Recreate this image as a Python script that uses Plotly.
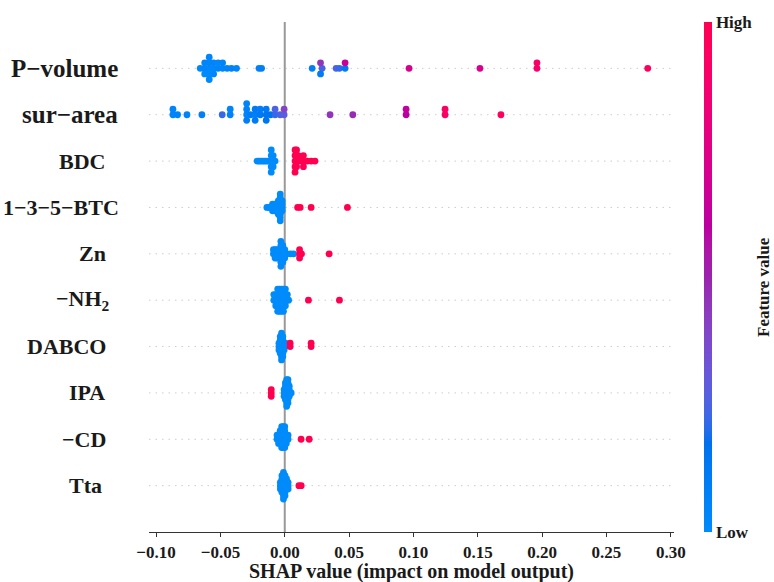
import numpy as np
import plotly.graph_objects as go

# ---- feature names (top to bottom) ----
features = ["P−volume", "sur−area", "BDC", "1−3−5−BTC", "Zn",
            "−NH<sub>2</sub>", "DABCO", "IPA", "−CD", "Tta"]

# ---- SHAP values and normalised feature values per feature ----
pvol_shap = [-0.0657, -0.0622, -0.0622, -0.0622, -0.0587, -0.0587, -0.0587, -0.0587, -0.0587,
             -0.0553, -0.0553, -0.0553, -0.0518, -0.0518, -0.0483, -0.0483, -0.0448, -0.0414,
             -0.0375, -0.0200, -0.0180, 0.0213, 0.0290, 0.0278, 0.0278, 0.0399, 0.0425,
             0.0469, 0.0469, 0.0966, 0.1517, 0.1960, 0.1960, 0.2821]
pvol_feat = [0.02, 0.03, 0.05, 0.00, 0.02, 0.04, 0.00, 0.03, 0.01,
             0.02, 0.05, 0.03, 0.04, 0.02, 0.03, 0.05, 0.04, 0.06,
             0.05, 0.06, 0.08, 0.08, 0.25, 0.45, 0.10, 0.25, 0.22,
             0.12, 0.65, 0.70, 0.72, 0.88, 0.90, 0.95]

surf_shap = [-0.0869, -0.0869, -0.0833, -0.0760, -0.0644, -0.0486, -0.0424, -0.0424,
             -0.0296, -0.0296, -0.0296, -0.0296, -0.0265, -0.0230, -0.0230, -0.0230,
             -0.0191, -0.0191, -0.0144, -0.0144, -0.0144, -0.0110, -0.0075, -0.0075,
             -0.0036, -0.0005, -0.0005, 0.0352, 0.0529, 0.0943, 0.0943, 0.1246, 0.1246, 0.1680]
surf_feat = [0.03, 0.05, 0.04, 0.06, 0.08, 0.22, 0.06, 0.04,
             0.03, 0.06, 0.08, 0.05, 0.10, 0.08, 0.12, 0.10,
             0.12, 0.10, 0.14, 0.12, 0.15, 0.16, 0.22, 0.25,
             0.25, 0.28, 0.40, 0.45, 0.48, 0.60, 0.62, 0.90, 0.92, 0.95]

bdc_shap = [-0.0215, -0.0200, -0.0185, -0.0170, -0.0155, -0.0140, -0.0125,
            -0.0105, -0.0105, -0.0105, -0.0105, -0.0105, -0.0090, -0.0090, -0.0090, -0.0075,
            0.0080, 0.0080, 0.0080, 0.0080, 0.0080, 0.0092, 0.0092, 0.0092, 0.0092,
            0.0105, 0.0105, 0.0130, 0.0145, 0.0145, 0.0145, 0.0175, 0.0205, 0.0235]
bdc_feat = [0, 0, 0, 0, 0, 0, 0, 0, 0, 0, 0, 0, 0, 0, 0, 0,
            1, 1, 1, 1, 1, 1, 1, 1, 1, 1, 1, 1, 1, 1, 1, 1, 1, 1]

btc_shap = [-0.0139, -0.0125, -0.0110, -0.0095, -0.0095, -0.0095, -0.0080, -0.0080, -0.0080,
            -0.0065, -0.0065, -0.0065, -0.0050, -0.0050, -0.0050, -0.0050, -0.0050,
            -0.0035, -0.0035, -0.0035, -0.0035, -0.0035, -0.0035, -0.0035, -0.0035, -0.0035,
            -0.0020, -0.0020, -0.0020, -0.0020, 0.0100, 0.0120, 0.0205, 0.0487]
btc_feat = [0, 0, 0, 0, 0, 0, 0, 0, 0, 0, 0, 0, 0, 0, 0, 0, 0,
            0, 0, 0, 0, 0, 0, 0, 0, 0, 0, 0, 0, 0, 1, 1, 1, 1]

zn_shap = [-0.0088, -0.0088, -0.0075, -0.0075, -0.0075, -0.0060, -0.0060, -0.0060,
           -0.0045, -0.0045, -0.0045, -0.0030, -0.0030, -0.0030, -0.0030, -0.0030, -0.0030, -0.0030,
           -0.0015, -0.0015, -0.0015, -0.0015, -0.0015, 0.0000, 0.0000, 0.0000,
           0.0020, 0.0045, 0.0068, 0.0115, 0.0115, 0.0115, 0.0130, 0.0345]
zn_feat = [0, 0, 0, 0, 0, 0, 0, 0, 0, 0, 0, 0, 0, 0, 0, 0, 0, 0,
           0, 0, 0, 0, 0, 0, 0, 0, 0, 0, 0, 1, 1, 1, 1, 1]

nh2_shap = [-0.0085, -0.0085, -0.0070, -0.0070, -0.0070,
            -0.0055, -0.0055, -0.0055, -0.0055, -0.0055, -0.0040, -0.0040, -0.0040, -0.0040, -0.0040,
            -0.0025, -0.0025, -0.0025, -0.0025, -0.0025, -0.0010, -0.0010, -0.0010, -0.0010, -0.0010,
            0.0005, 0.0005, 0.0005, 0.0005, 0.0020, 0.0020, 0.0030, 0.0184, 0.0425]
nh2_feat = [0, 0, 0, 0, 0, 0, 0, 0, 0, 0, 0, 0, 0, 0, 0, 0, 0,
            0, 0, 0, 0, 0, 0, 0, 0, 0, 0, 0, 0, 0, 0, 0, 1, 1]

dabco_shap = [-0.0045, -0.0045, -0.0045, -0.0035, -0.0035, -0.0035, -0.0035, -0.0035, -0.0035,
              -0.0025, -0.0025, -0.0025, -0.0025, -0.0025, -0.0025, -0.0025, -0.0025, -0.0025,
              -0.0015, -0.0015, -0.0015, -0.0015, -0.0015, -0.0015, -0.0015,
              -0.0005, -0.0005, -0.0005, 0.0005, 0.0005, 0.0042, 0.0042, 0.0205, 0.0205]
dabco_feat = [0, 0, 0, 0, 0, 0, 0, 0, 0, 0, 0, 0, 0, 0, 0, 0, 0, 0,
              0, 0, 0, 0, 0, 0, 0, 0, 0, 0, 0, 0, 1, 1, 1, 1]

ipa_shap = [-0.0105, -0.0105, -0.0105, -0.0005, -0.0005, -0.0005,
            0.0005, 0.0005, 0.0005, 0.0005, 0.0005, 0.0005,
            0.0015, 0.0015, 0.0015, 0.0015, 0.0015, 0.0015, 0.0015, 0.0015, 0.0015,
            0.0025, 0.0025, 0.0025, 0.0025, 0.0025, 0.0025, 0.0025, 0.0025,
            0.0035, 0.0035, 0.0035, 0.0035, 0.0050]
ipa_feat = [1, 1, 1, 0, 0, 0, 0, 0, 0, 0, 0, 0, 0, 0, 0, 0, 0,
            0, 0, 0, 0, 0, 0, 0, 0, 0, 0, 0, 0, 0, 0, 0, 0, 0]

cd_shap = [-0.0060, -0.0060, -0.0048, -0.0048, -0.0048, -0.0036, -0.0036, -0.0036, -0.0036,
           -0.0024, -0.0024, -0.0024, -0.0024, -0.0024, -0.0024,
           -0.0012, -0.0012, -0.0012, -0.0012, -0.0012, -0.0012,
           0.0000, 0.0000, 0.0000, 0.0000, 0.0000, 0.0000,
           0.0012, 0.0012, 0.0012, 0.0026, 0.0026, 0.0127, 0.0190]
cd_feat = [0, 0, 0, 0, 0, 0, 0, 0, 0, 0, 0, 0, 0, 0, 0, 0, 0,
           0, 0, 0, 0, 0, 0, 0, 0, 0, 0, 0, 0, 0, 0, 0, 1, 1]

tta_shap = [-0.0034, -0.0034, -0.0034, -0.0022, -0.0022, -0.0022, -0.0022, -0.0022, -0.0022,
            -0.0010, -0.0010, -0.0010, -0.0010, -0.0010, -0.0010, -0.0010, -0.0010, -0.0010,
            0.0002, 0.0002, 0.0002, 0.0002, 0.0002, 0.0002, 0.0002,
            0.0014, 0.0014, 0.0014, 0.0014, 0.0026, 0.0026, 0.0026, 0.0110, 0.0128]
tta_feat = [0, 0, 0, 0, 0, 0, 0, 0, 0, 0, 0, 0, 0, 0, 0, 0, 0,
            0, 0, 0, 0, 0, 0, 0, 0, 0, 0, 0, 0, 0, 0, 0, 1, 1]

shap_rows = [pvol_shap, surf_shap, bdc_shap, btc_shap, zn_shap,
             nh2_shap, dabco_shap, ipa_shap, cd_shap, tta_shap]
feat_rows = [pvol_feat, surf_feat, bdc_feat, btc_feat, zn_feat,
             nh2_feat, dabco_feat, ipa_feat, cd_feat, tta_feat]

x_ticks = [-0.10, -0.05, 0.00, 0.05, 0.10, 0.15, 0.20, 0.25, 0.30]
x_tick_text = ["−0.10", "−0.05", "0.00", "0.05", "0.10", "0.15", "0.20", "0.25", "0.30"]

# ---- styling / layout ----
SERIF = "Liberation Serif, Times New Roman, serif"
INK = "#1a1a1a"
W, H = 774, 582
ML, MR, MT, MB = 149, 100, 22, 50
PW, PH = W - ML - MR, H - MT - MB


def px_x(px):
    """Horizontal pixel -> paper coordinate."""
    return (px - ML) / PW


def px_y(py):
    """Vertical pixel (from top) -> paper coordinate."""
    return (MT + PH - py) / PH


# row label right edges (px) and font sizes
label_right = [120, 120, 107, 121, 108, 112, 108, 107, 108, 104]
label_size = [25, 25, 22, 22, 22, 22, 22, 22, 22, 22]


def lch_to_rgb(l, c, h):
    """CIE LCh(ab) -> sRGB (D65), 0..255 ints."""
    a, b = c * np.cos(h), c * np.sin(h)
    fy = (l + 16.0) / 116.0
    fx = fy + a / 500.0
    fz = fy - b / 200.0

    def finv(t):
        return t ** 3 if t ** 3 > 0.008856 else (t - 16.0 / 116.0) / 7.787

    X, Y, Z = 0.95047 * finv(fx), finv(fy), 1.08883 * finv(fz)
    lin = [3.24048134 * X - 1.53715152 * Y - 0.49853633 * Z,
           -0.96925495 * X + 1.87599 * Y + 0.04155593 * Z,
           0.05564664 * X - 0.20404134 * Y + 1.05731107 * Z]
    out = []
    for v in lin:
        v = 12.92 * v if v <= 0.0031308 else 1.055 * v ** (1 / 2.4) - 0.055
        out.append(int(round(255 * min(max(v, 0.0), 1.0))))
    return out


def red_blue_scale(n=41):
    """Blue -> red colour map interpolated in LCh space."""
    blue_lch = (54.0, 70.0, 4.6588)
    red_lch = (54.0, 90.0, 0.35470565 + 2 * np.pi)
    l_mid = 40.0
    scale = []
    for t in np.linspace(0, 1, n):
        if t <= 0.5:
            l = blue_lch[0] + (l_mid - blue_lch[0]) * (t / 0.5)
        else:
            l = l_mid + (red_lch[0] - l_mid) * ((t - 0.5) / 0.5)
        c = blue_lch[1] + (red_lch[1] - blue_lch[1]) * t
        h = blue_lch[2] + (red_lch[2] - blue_lch[2]) * t
        r, g, b = lch_to_rgb(l, c, h)
        scale.append([float(t), f"rgb({r},{g},{b})"])
    return scale


def swarm_offsets(vals, nbins=100, row_height=0.4):
    """Vertical beeswarm offsets: stack points that share a quantised bin."""
    vals = np.asarray(vals, dtype=float)
    span = vals.max() - vals.min()
    quant = np.round(nbins * (vals - vals.min()) / (span + 1e-8))
    order = np.argsort(quant, kind="stable")
    ys = np.zeros(len(vals))
    layer, last = 0, None
    for i in order:
        if quant[i] != last:
            layer = 0
        ys[i] = np.ceil(layer / 2) * ((layer % 2) * 2 - 1)
        layer += 1
        last = quant[i]
    ys *= 0.9 * (row_height / np.max(ys + 1))
    return ys


cscale = red_blue_scale()
n_rows = len(features)

fig = go.Figure()
shapes = []
for i, (sv, fv) in enumerate(zip(shap_rows, feat_rows)):
    pos = n_rows - 1 - i
    shapes.append(dict(type="line", xref="paper", yref="y", x0=0, x1=1, y0=pos, y1=pos,
                       line=dict(color="#cccccc", width=1, dash="1.5px,5px"), layer="below"))
    marker = dict(size=6.8, color=fv, colorscale=cscale, cmin=0, cmax=1,
                  line=dict(width=0), opacity=1.0)
    if i == 0:
        marker.update(showscale=True, colorbar=dict(
            thickness=8, len=510, lenmode="pixels",
            x=px_x(704), xanchor="left", xpad=0,
            y=px_y((22 + 532) / 2), yanchor="middle", ypad=0,
            tickvals=[0, 1], ticktext=["Low", "High"], ticks="", ticklen=0,
            outlinewidth=0, borderwidth=0,
            tickfont=dict(family=SERIF, size=17, color=INK, weight="bold")))
    fig.add_trace(go.Scatter(x=sv, y=pos + swarm_offsets(sv), mode="markers",
                             marker=marker, hoverinfo="skip", showlegend=False))

# zero reference line
shapes.append(dict(type="line", xref="x", yref="paper", x0=0, x1=0, y0=0, y1=1,
                   line=dict(color="#999999", width=2), layer="below"))

annotations = []
for i, name in enumerate(features):
    pos = n_rows - 1 - i
    annotations.append(dict(text=name, xref="paper", yref="y",
                            x=px_x(label_right[i]), y=pos,
                            xanchor="right", yanchor="middle", showarrow=False,
                            font=dict(family=SERIF, size=label_size[i], color=INK, weight="bold")))
annotations.append(dict(text="Feature value", xref="paper", yref="paper",
                        x=px_x(764), y=px_y(287),
                        xanchor="center", yanchor="middle", textangle=-90, showarrow=False,
                        font=dict(family=SERIF, size=17, color=INK, weight="bold")))
annotations.append(dict(text="SHAP value (impact on model output)", xref="paper", yref="paper",
                        x=px_x(411), y=px_y(571.5), xanchor="center", yanchor="middle",
                        showarrow=False,
                        font=dict(family=SERIF, size=20, color=INK, weight="bold")))

fig.update_layout(
    width=W, height=H,
    margin=dict(l=ML, r=MR, t=MT, b=MB, autoexpand=False),
    paper_bgcolor="white", plot_bgcolor="white",
    shapes=shapes, annotations=annotations,
    xaxis=dict(range=[-0.1055, 0.3025], tickvals=x_ticks, ticktext=x_tick_text,
               ticks="outside", ticklen=4, tickwidth=1.3, tickcolor="#333333",
               showline=True, linecolor="#333333", linewidth=1.3,
               showgrid=False, zeroline=False, automargin=False,
               tickfont=dict(family=SERIF, size=17, color=INK, weight="bold")),
    yaxis=dict(range=[-1, 10], showticklabels=False, showgrid=False, zeroline=False,
               showline=False, ticks="", automargin=False),
)

fig.write_html("out.html")
